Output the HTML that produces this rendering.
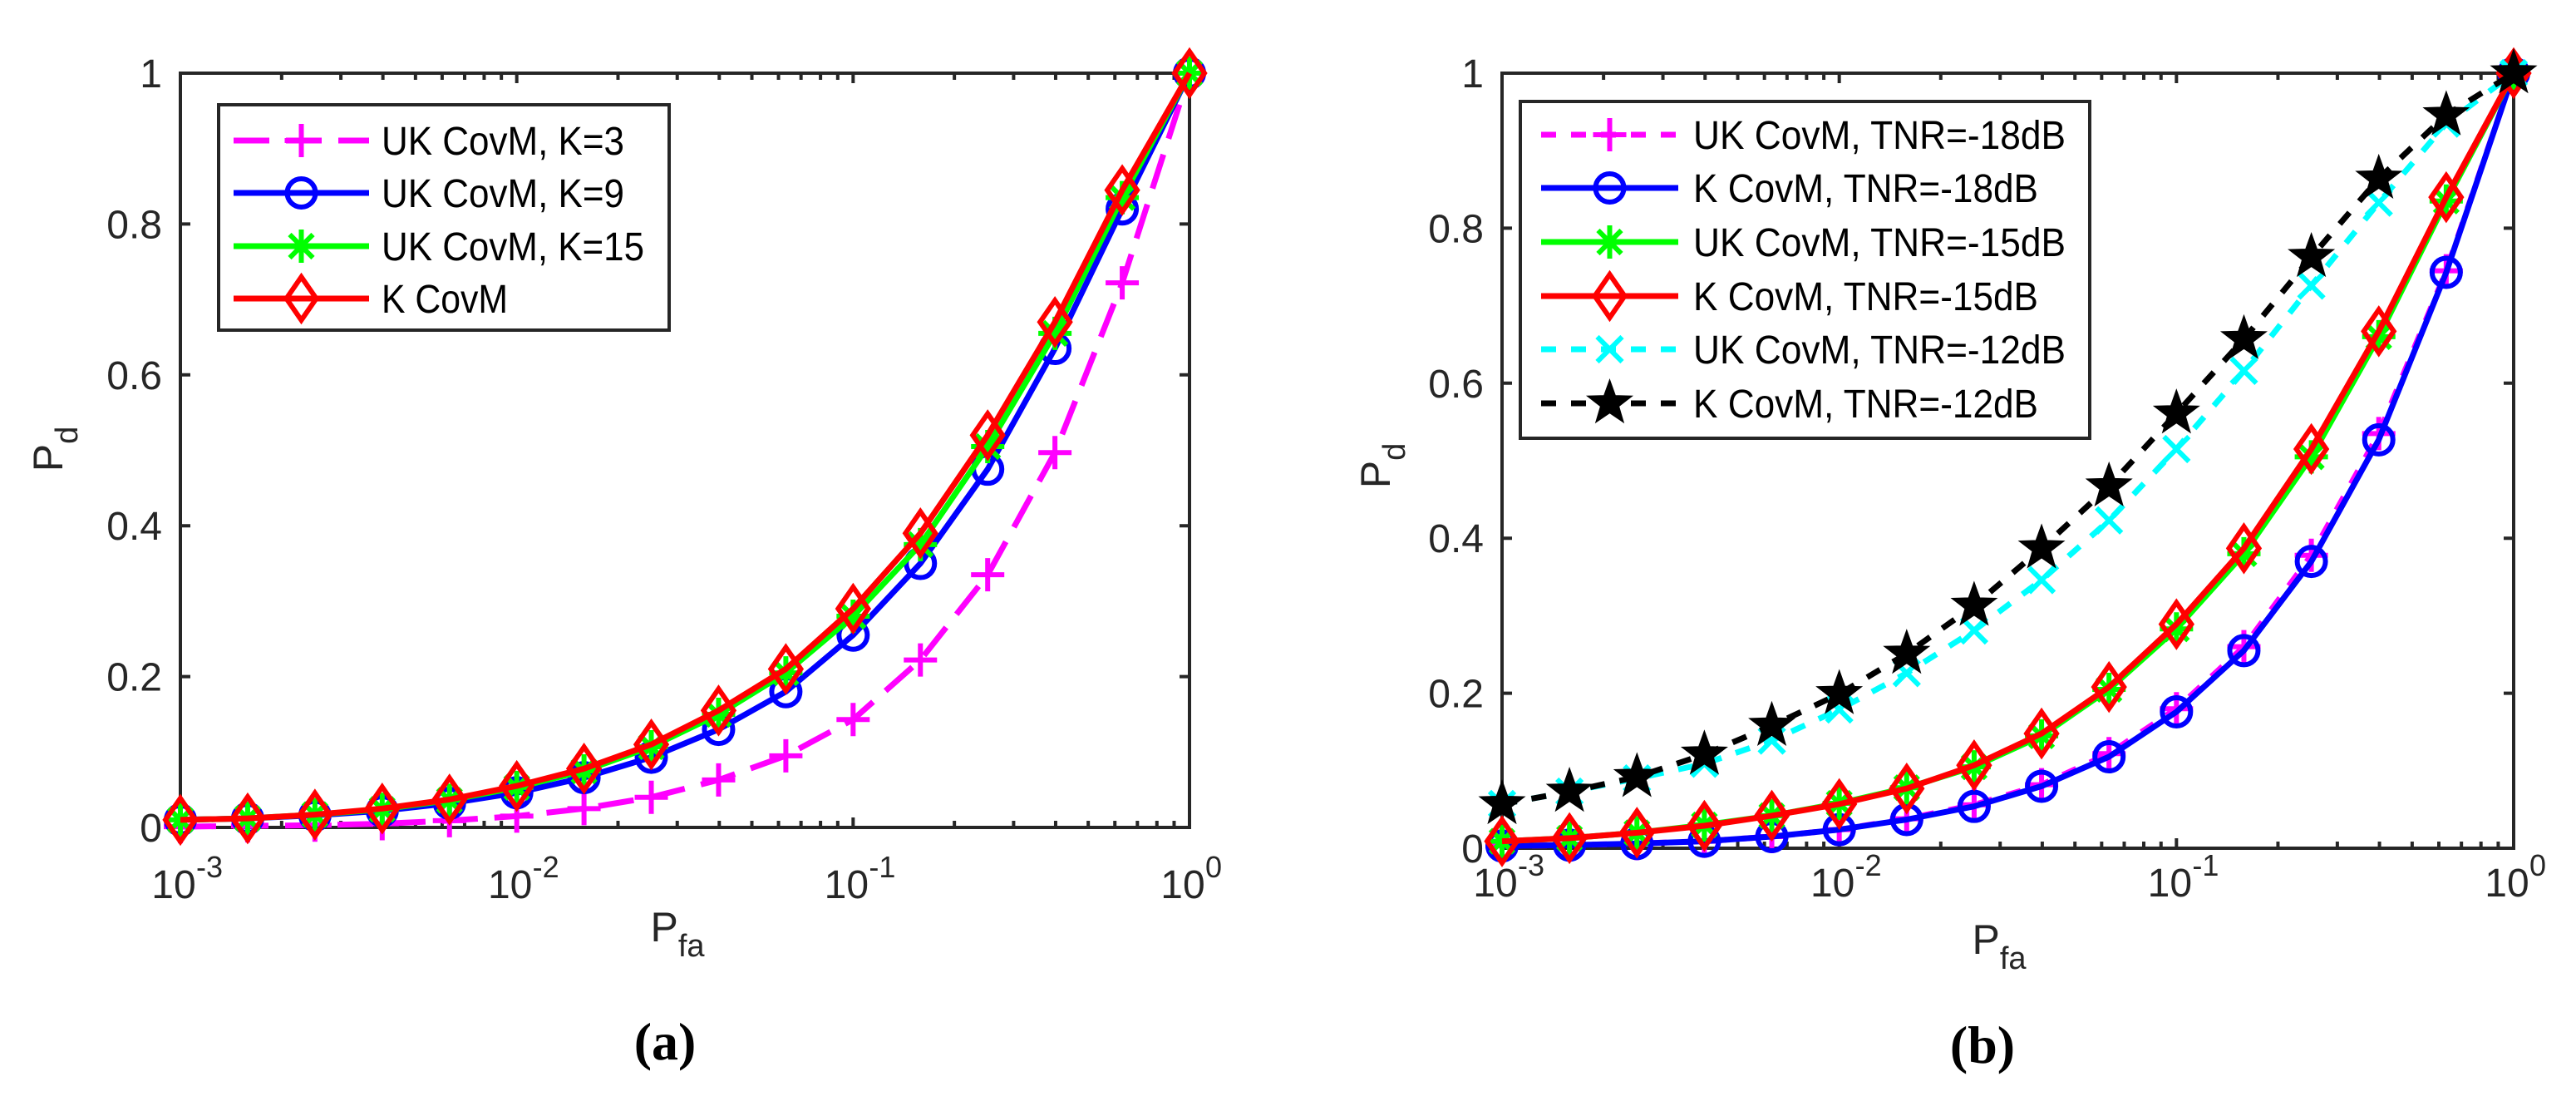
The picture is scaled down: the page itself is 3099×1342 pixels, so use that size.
<!DOCTYPE html>
<html>
<head>
<meta charset="utf-8">
<style>
  html,body{margin:0;padding:0;background:#fff;}
  svg{display:block;}
  text{font-family:"Liberation Sans",Arial,sans-serif;fill:#262626;}
  .cap{font-family:"Liberation Serif","DejaVu Serif",serif;font-weight:bold;fill:#000;}
</style>
</head>
<body>
<svg id="fig" width="3099" height="1342" viewBox="0 0 3099 1342" xmlns="http://www.w3.org/2000/svg">
  <g id="panelA"></g>
  <g id="panelB"></g>
  <text class="cap" x="800" y="1274" font-size="64" text-anchor="middle">(a)</text>
  <text class="cap" x="2385" y="1278" font-size="64" text-anchor="middle">(b)</text>
</svg>
<script>
// ---- data (x: Pfa, log spaced 10^-3 .. 10^0, 16 points) ----
const pfaExponents = [-3,-2.8,-2.6,-2.4,-2.2,-2,-1.8,-1.6,-1.4,-1.2,-1,-0.8,-0.6,-0.4,-0.2,0];
const yTickValues = [0,0.2,0.4,0.6,0.8,1];
const yTickLabels = ["0","0.2","0.4","0.6","0.8","1"];
const xTickExponents = [-3,-2,-1,0];
const xTickLabels = ["-3","-2","-1","0"];

// Panel (a)
const aNames = ["UK CovM, K=3","UK CovM, K=9","UK CovM, K=15","K CovM"];
const aUK3  = [0.001,0.002,0.003,0.005,0.009,0.015,0.025,0.040,0.063,0.095,0.143,0.222,0.335,0.497,0.722,1.0];
const aUK9  = [0.010,0.012,0.016,0.022,0.032,0.046,0.066,0.093,0.130,0.180,0.255,0.350,0.475,0.635,0.820,1.0];
const aUK15 = [0.010,0.012,0.017,0.024,0.036,0.053,0.075,0.107,0.150,0.205,0.280,0.375,0.505,0.655,0.835,1.0];
const aK    = [0.010,0.012,0.017,0.025,0.037,0.055,0.078,0.110,0.155,0.210,0.290,0.390,0.520,0.670,0.845,1.0];

// Panel (b)
const bNames = ["UK CovM, TNR=-18dB","K CovM, TNR=-18dB","UK CovM, TNR=-15dB","K CovM, TNR=-15dB","UK CovM, TNR=-12dB","K CovM, TNR=-12dB"];
const bUK18 = [0.003,0.004,0.006,0.009,0.015,0.024,0.038,0.056,0.082,0.122,0.180,0.260,0.378,0.535,0.745,1.0];
const bK18  = [0.003,0.004,0.006,0.009,0.015,0.024,0.037,0.054,0.080,0.118,0.176,0.255,0.370,0.527,0.743,1.0];
const bUK15 = [0.009,0.013,0.020,0.030,0.042,0.058,0.078,0.105,0.145,0.205,0.283,0.380,0.505,0.660,0.835,1.0];
const bK15  = [0.009,0.013,0.020,0.029,0.042,0.057,0.077,0.107,0.148,0.208,0.289,0.387,0.515,0.667,0.840,1.0];
const bUK12 = [0.057,0.073,0.090,0.109,0.139,0.179,0.226,0.281,0.346,0.423,0.515,0.616,0.726,0.833,0.935,1.0];
const bK12  = [0.057,0.073,0.092,0.121,0.158,0.199,0.251,0.313,0.387,0.467,0.561,0.657,0.763,0.864,0.946,1.0];

const NS = "http://www.w3.org/2000/svg";
function mk(tag, attrs, parent){
  const e = document.createElementNS(NS, tag);
  for (const k in attrs) e.setAttribute(k, attrs[k]);
  if (parent) parent.appendChild(e);
  return e;
}

function marker(g, type, cx, cy, color){
  const s = 20, sw = 6;
  let m;
  if (type === "plus"){
    m = mk("path",{d:`M${cx-s} ${cy}H${cx+s}M${cx} ${cy-s}V${cy+s}`,stroke:color,"stroke-width":sw,fill:"none"},g);
  } else if (type === "circle"){
    m = mk("circle",{cx:cx,cy:cy,r:17,stroke:color,"stroke-width":sw,fill:"none"},g);
  } else if (type === "asterisk"){
    const d = 14;
    m = mk("path",{d:`M${cx} ${cy-s}V${cy+s}M${cx-d} ${cy-d}L${cx+d} ${cy+d}M${cx-d} ${cy+d}L${cx+d} ${cy-d}M${cx-s} ${cy}H${cx+s}`,stroke:color,"stroke-width":sw,fill:"none"},g);
  } else if (type === "diamond"){
    m = mk("path",{d:`M${cx} ${cy-26}L${cx+18} ${cy}L${cx} ${cy+26}L${cx-18} ${cy}Z`,stroke:color,"stroke-width":sw,fill:"none"},g);
  } else if (type === "x"){
    const d = 15;
    m = mk("path",{d:`M${cx-d} ${cy-d}L${cx+d} ${cy+d}M${cx-d} ${cy+d}L${cx+d} ${cy-d}`,stroke:color,"stroke-width":sw,fill:"none"},g);
  } else if (type === "star"){
    let p = "";
    for (let i=0;i<10;i++){
      const r = i%2===0 ? 27 : 11;
      const a = -Math.PI/2 + i*Math.PI/5;
      p += (i===0?"M":"L") + (cx + r*Math.cos(a)).toFixed(1) + " " + (cy + r*Math.sin(a)).toFixed(1);
    }
    m = mk("path",{d:p+"Z",stroke:color,"stroke-width":2,fill:color},g);
  }
  return m;
}

function drawPanel(gid, box, series, legend, labels){
  const g = document.getElementById(gid);
  const {L,R,T,B} = box;
  const xS = e => L + (e + 3) / 3 * (R - L);
  const yS = v => B - v * (B - T);
  const ax = "#262626";
  const frame = mk("rect",{x:L,y:T,width:R-L,height:B-T,fill:"none",stroke:ax,"stroke-width":4},g);
  
  
  yTickValues.forEach((v,i)=>{
    const y = yS(v);
    mk("path",{d:`M${L} ${y}h12M${R} ${y}h-12`,stroke:ax,"stroke-width":4},g);
    const t = mk("text",{x:L-22,y:y+17,"font-size":48,"text-anchor":"end"},g);
    t.textContent = yTickLabels[i];
    
    
  });
  xTickExponents.forEach((e,i)=>{
    const x = xS(e);
    mk("path",{d:`M${x} ${B}v-12M${x} ${T}v12`,stroke:ax,"stroke-width":4},g);
    if (i < xTickExponents.length-1){
      for (let k=2;k<=9;k++){
        const xm = xS(e + Math.log10(k));
        mk("path",{d:`M${xm} ${B}v-8M${xm} ${T}v8`,stroke:ax,"stroke-width":4},g);
      }
    }
    const t = mk("text",{x:x-8,y:labels.xTickY,"font-size":48,"text-anchor":"middle"},g);
    t.textContent = "10";
    
    
    const s = mk("text",{x:x+19,y:labels.xTickY-25,"font-size":36,"text-anchor":"start"},g);
    s.textContent = xTickLabels[i];
    
    
  });
  const xt = mk("text",{x:labels.xTitleX,y:labels.xTitleY,"font-size":50,"text-anchor":"middle"},g);
  xt.innerHTML = 'P<tspan font-size="38" dy="18">fa</tspan>';
  
  
  const yt = mk("text",{x:0,y:0,"font-size":50,"text-anchor":"middle",transform:`translate(${labels.yTitleX},${labels.yTitleY}) rotate(-90)`},g);
  yt.innerHTML = 'P<tspan font-size="38" dy="18">d</tspan>';
  
  

  series.forEach(s=>{
    const sg = mk("g",{},g);
    
    
    const pts = s.data.map((v,i)=>xS(pfaExponents[i]).toFixed(1)+","+yS(v).toFixed(1)).join(" ");
    const pl = mk("polyline",{points:pts,fill:"none",stroke:s.color,"stroke-width":7,"stroke-linejoin":"round"},sg);
    if (s.dash) pl.setAttribute("stroke-dasharray", s.dash);
    
    
    s.data.forEach((v,i)=>{
      const m = marker(sg, s.marker, xS(pfaExponents[i]), yS(v), s.color);
      
      
    });
  });

  const lg = mk("g",{},g);
  
  
  mk("rect",{x:legend.x,y:legend.y,width:legend.w,height:legend.h,fill:"#fff",stroke:ax,"stroke-width":4},lg);
  series.forEach((s,i)=>{
    const ey = legend.rowY[i];
    const eg = mk("g",{},lg);
    
    
    const ln = mk("line",{x1:legend.lx1,y1:ey,x2:legend.lx2,y2:ey,stroke:s.color,"stroke-width":7},eg);
    if (s.dash) ln.setAttribute("stroke-dasharray", s.dash);
    marker(eg, s.marker, (legend.lx1+legend.lx2)/2, ey, s.color);
    const t = mk("text",{x:legend.tx,y:ey+17,"font-size":48,"textLength":legend.tw[i],"lengthAdjust":"spacingAndGlyphs"},eg);
    t.setAttribute("style","fill:#000");
    t.textContent = s.name;
  });
}

drawPanel("panelA",{L:217,R:1431,T:88,B:995},[
  {key:"uk-k3",name:aNames[0],data:aUK3,color:"#ff00ff",marker:"plus",dash:"43 20"},
  {key:"uk-k9",name:aNames[1],data:aUK9,color:"#0000ff",marker:"circle"},
  {key:"uk-k15",name:aNames[2],data:aUK15,color:"#00ff00",marker:"asterisk"},
  {key:"k-covm",name:aNames[3],data:aK,color:"#ff0000",marker:"diamond"}
],{x:263,y:126,w:542,h:271,rowY:[169,232,296,359],lx1:281,lx2:444,tx:459,tw:[292,292,316,152]},
{xTickY:1080,xTitleX:815,xTitleY:1132,yTitleX:75,yTitleY:540});

drawPanel("panelB",{L:1807,R:3024,T:88,B:1020},[
  {key:"uk-18",name:bNames[0],data:bUK18,color:"#ff00ff",marker:"plus",dash:"18 18"},
  {key:"k-18",name:bNames[1],data:bK18,color:"#0000ff",marker:"circle"},
  {key:"uk-15",name:bNames[2],data:bUK15,color:"#00ff00",marker:"asterisk"},
  {key:"k-15",name:bNames[3],data:bK15,color:"#ff0000",marker:"diamond"},
  {key:"uk-12",name:bNames[4],data:bUK12,color:"#00ffff",marker:"x",dash:"18 18"},
  {key:"k-12",name:bNames[5],data:bK12,color:"#000000",marker:"star",dash:"18 18"}
],{x:1829,y:122,w:685,h:405,rowY:[162,226,291,356,420,485],lx1:1854,lx2:2019,tx:2037,tw:[448,415,448,415,448,415]},
{xTickY:1078,xTitleX:2405,xTitleY:1147,yTitleX:1672,yTitleY:560});
</script>
</body>
</html>
